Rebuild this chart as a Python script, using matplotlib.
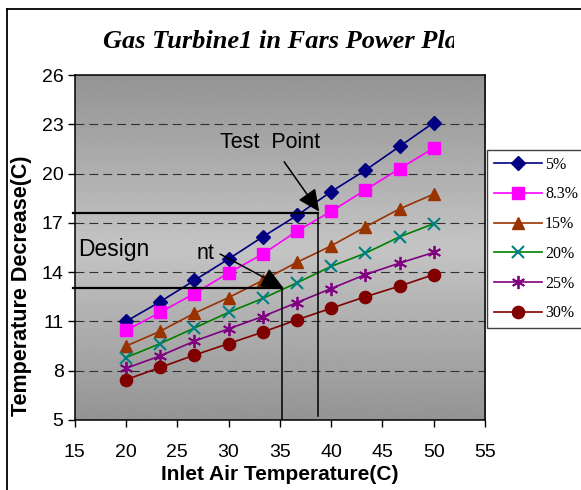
import numpy as np
import matplotlib
matplotlib.use("Agg")
import matplotlib.pyplot as plt
from matplotlib.lines import Line2D
from matplotlib.transforms import Bbox

# inlet air temperature (C) and temperature decrease (C) per humidity level
inlet_temp = [20, 23.33, 26.67, 30, 33.33, 36.67, 40, 43.33, 46.67, 50]
drop_5 = [11.0, 12.2, 13.5, 14.8, 16.15, 17.45, 18.9, 20.2, 21.65, 23.1]
drop_8_3 = [10.45, 11.55, 12.7, 13.95, 15.1, 16.5, 17.7, 19.0, 20.3, 21.55]
drop_15 = [9.5, 10.4, 11.5, 12.45, 13.5, 14.6, 15.6, 16.75, 17.85, 18.75]
drop_20 = [8.8, 9.65, 10.6, 11.55, 12.4, 13.35, 14.35, 15.15, 16.15, 16.95]
drop_25 = [8.15, 8.9, 9.8, 10.55, 11.3, 12.15, 13.0, 13.85, 14.55, 15.2]
drop_30 = [7.45, 8.2, 8.95, 9.65, 10.35, 11.1, 11.8, 12.5, 13.15, 13.85]
series_labels = ["5%", "8.3%", "15%", "20%", "25%", "30%"]

x_ticks = [15, 20, 25, 30, 35, 40, 45, 50, 55]
y_ticks = [5, 8, 11, 14, 17, 20, 23, 26]

# operating points marked on the chart
test_point = (38.76, 17.6)
design_point = (35.2, 13.05)

W, H, DPI = 581, 490, 100
fig = plt.figure(figsize=(W / DPI, H / DPI), dpi=DPI)
ax = fig.add_axes([74.7 / W, 1 - 420 / H, 410.3 / W, 345 / H])

sans = "Liberation Sans"
serif = "Liberation Serif"

# gray band background: darker at top and bottom, light in the middle
t = np.linspace(0, 1, 256)[:, None]
shade = 0.58 + (0.77 - 0.58) * (1 - np.abs(2 * t - 1))
ax.imshow(shade, extent=[15, 55, 5, 26], origin="lower", aspect="auto",
          cmap="gray", vmin=0, vmax=1, zorder=0, interpolation="bilinear")

for yv in y_ticks[1:-1]:
    ax.axhline(yv, color="#303030", lw=0.8, ls=(0, (8, 4.5)), zorder=1)

styles = [
    dict(color="#000080", marker="D", ms=7.3, mfc="#000080", mec="#000080"),
    dict(color="#FF00FF", marker="s", ms=8.6, mfc="#FF00FF", mec="#FF00FF"),
    dict(color="#993300", marker="^", ms=9.0, mfc="#993300", mec="#993300"),
    dict(color="#008000", marker="x", ms=8.5, mew=1.5, mec="#008080"),
    dict(color="#800080", marker=(6, 2, 0), ms=9.5, mew=1.3, mec="#800080"),
    dict(color="#800000", marker="o", ms=8.8, mfc="#800000", mec="#800000"),
]
all_series = [drop_5, drop_8_3, drop_15, drop_20, drop_25, drop_30]
handles = []
for vals, st, lab in zip(all_series, styles, series_labels):
    h, = ax.plot(inlet_temp, vals, lw=1.2, label=lab, zorder=4, **st)
    handles.append(h)

# reference lines to the test point and the design point
tx, ty = test_point
ax.plot([14.85, tx], [ty, ty], color="black", lw=1.6, zorder=5, clip_on=False)
ax.plot([tx, tx], [ty, 5.26], color="black", lw=1.1, zorder=5)
dx, dy = design_point
ax.plot([14.85, dx], [dy, dy], color="black", lw=1.6, zorder=5, clip_on=False)
ax.plot([dx, dx], [dy, 5], color="black", lw=1.1, zorder=5)

arrow = dict(arrowstyle="-|>,head_length=0.9,head_width=0.42", color="black",
             lw=1.1, shrinkA=0, shrinkB=0, mutation_scale=15)
ax.annotate("", xy=(38.84, 17.68), xytext=(35.42, 20.72), arrowprops=arrow, zorder=6)
ax.annotate("", xy=(35.33, 13.05), xytext=(29.18, 15.1), arrowprops=arrow, zorder=6)

ax.text(29.2, 21.55, "Test  Point", fontsize=15.5, family=sans, zorder=6)
ax.text(15.3, 15.0, "Design", fontsize=16.5, family=sans, zorder=6)
ax.text(26.9, 14.8, "nt", fontsize=15.5, family=sans, zorder=6)

ax.set_xlim(15, 55)
ax.set_ylim(5, 26)
ax.set_xticks(x_ticks)
ax.set_yticks(y_ticks)
ax.tick_params(axis="both", direction="out", length=5, width=1, colors="black",
               labelsize=14)
ax.tick_params(axis="x", pad=12)
ax.tick_params(axis="y", pad=3)
for lbl in ax.get_xticklabels() + ax.get_yticklabels():
    lbl.set_family(sans)
for sp in ax.spines.values():
    sp.set_color("black")
    sp.set_linewidth(1.1)

ax.set_xlabel("Inlet Air Temperature(C)", fontsize=15, fontweight="bold",
              family=sans, labelpad=3.5)
ax.set_ylabel("Temperature Decrease(C)", fontsize=15.5, fontweight="bold",
              family=sans)
ax.yaxis.set_label_coords(-0.104, 0.39)

title = fig.text(103 / W, 1 - 48 / H, "Gas Turbine1 in Fars Power Plant",
                 fontsize=19, fontweight="bold", style="italic", family=serif,
                 ha="left", va="baseline")
title.set_clip_box(Bbox.from_extents(0, 0, 454, H))
title.set_clip_on(True)

fig.legend(handles=handles, loc="upper left",
           bbox_to_anchor=(487 / W, 1 - 150 / H), borderaxespad=0,
           prop={"family": serif, "size": 11.5}, frameon=True, fancybox=False,
           edgecolor="#404040", framealpha=1, handlelength=3.0,
           handletextpad=0.22, labelspacing=0.86, borderpad=0.42)

# outer chart frame
fig.add_artist(Line2D([6.5 / W, 6.5 / W], [0, 1 - 9 / H], color="black",
                      lw=1.3, transform=fig.transFigure))
fig.add_artist(Line2D([6.5 / W, 1], [1 - 9 / H, 1 - 9 / H], color="black",
                      lw=1.3, transform=fig.transFigure))

fig.savefig("out.png", dpi=DPI)
